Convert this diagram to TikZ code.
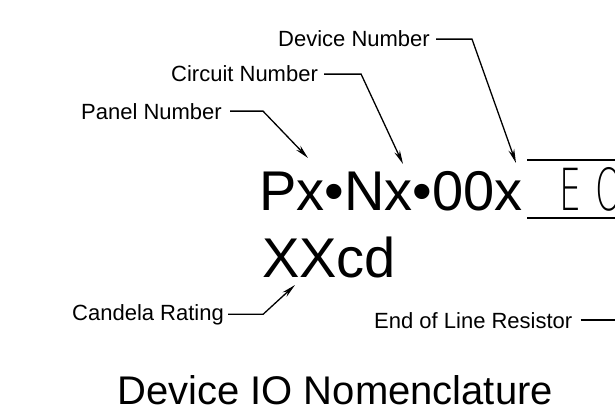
\documentclass[tikz,border=0pt]{standalone}
\usepackage{fontspec}
\setmainfont{Liberation Sans}
\IfFontExistsTF{DejaVu Sans ExtraLight}
  {\newfontfamily\eolfont[FakeStretch=0.6]{DejaVu Sans ExtraLight}}
  {\newfontfamily\eolfont[FakeStretch=0.6]{DejaVu Sans}}
\usetikzlibrary{arrows.meta,positioning}

\tikzset{
  lbl/.style={inner sep=0pt, anchor=base west, font=\fontsize{22}{26}\selectfont},
  big/.style={inner sep=0pt, anchor=base west, font=\fontsize{56}{60}\selectfont},
  lead/.style={line width=1.3pt, -{Stealth[length=14pt,width=6pt]}},
}

\begin{document}
\begin{tikzpicture}[x=1pt,y=-1pt]
	\clip (0,0) rectangle (615,409);

	% device tag
	\node[big] (code) at (259,210) {Px•Nx•00x};
	\node[big] (rating) at (262,277) {XXcd};
	\node[inner sep=0pt, anchor=base west, font=\eolfont\fontsize{58}{60}\selectfont] (eol) at (559,210) {E\hspace{14pt}O\hspace{14pt}L};
	\coordinate (eoltop) at (527,160);
	\coordinate (eolbot) at (527,218);
	\draw[line width=1.2pt] (eoltop) -- ++(120,0);
	\draw[line width=1.2pt] (eolbot) -- ++(120,0);

	% labels
	\node[lbl] (device) at (278,47) {Device Number};
	\node[lbl] (circuit) at (171,82) {Circuit Number};
	\node[lbl] (panel) at (81,119) {Panel Number};
	\node[lbl] (candela) at (72,320) {Candela Rating};
	\node[lbl] (resistor) at (374,328) {End of Line Resistor};
	\node[inner sep=0pt, anchor=base west, font=\fontsize{40}{44}\selectfont] (title) at (117,404) {Device IO Nomenclature};

	\coordinate (devtip) at (516,163);
	\coordinate (cirtip) at (403,164);
	\coordinate (pantip) at (308,158);
	\coordinate (candtip) at (295,285);

	\draw[lead] ([xshift=6pt]device.east) -- ++(36,0) -- (devtip);
	\draw[lead] ([xshift=6pt]circuit.east) -- ++(37,0) -- (cirtip);
	\draw[lead] ([xshift=8pt]panel.east) -- ++(33,0) -- (pantip);
	\draw[lead] ([xshift=4pt]candela.east) -- ++(35,0) -- (candtip);
	\draw[line width=1.3pt] ([xshift=8pt]resistor.east) -- ++(60,0);
\end{tikzpicture}
\end{document}
